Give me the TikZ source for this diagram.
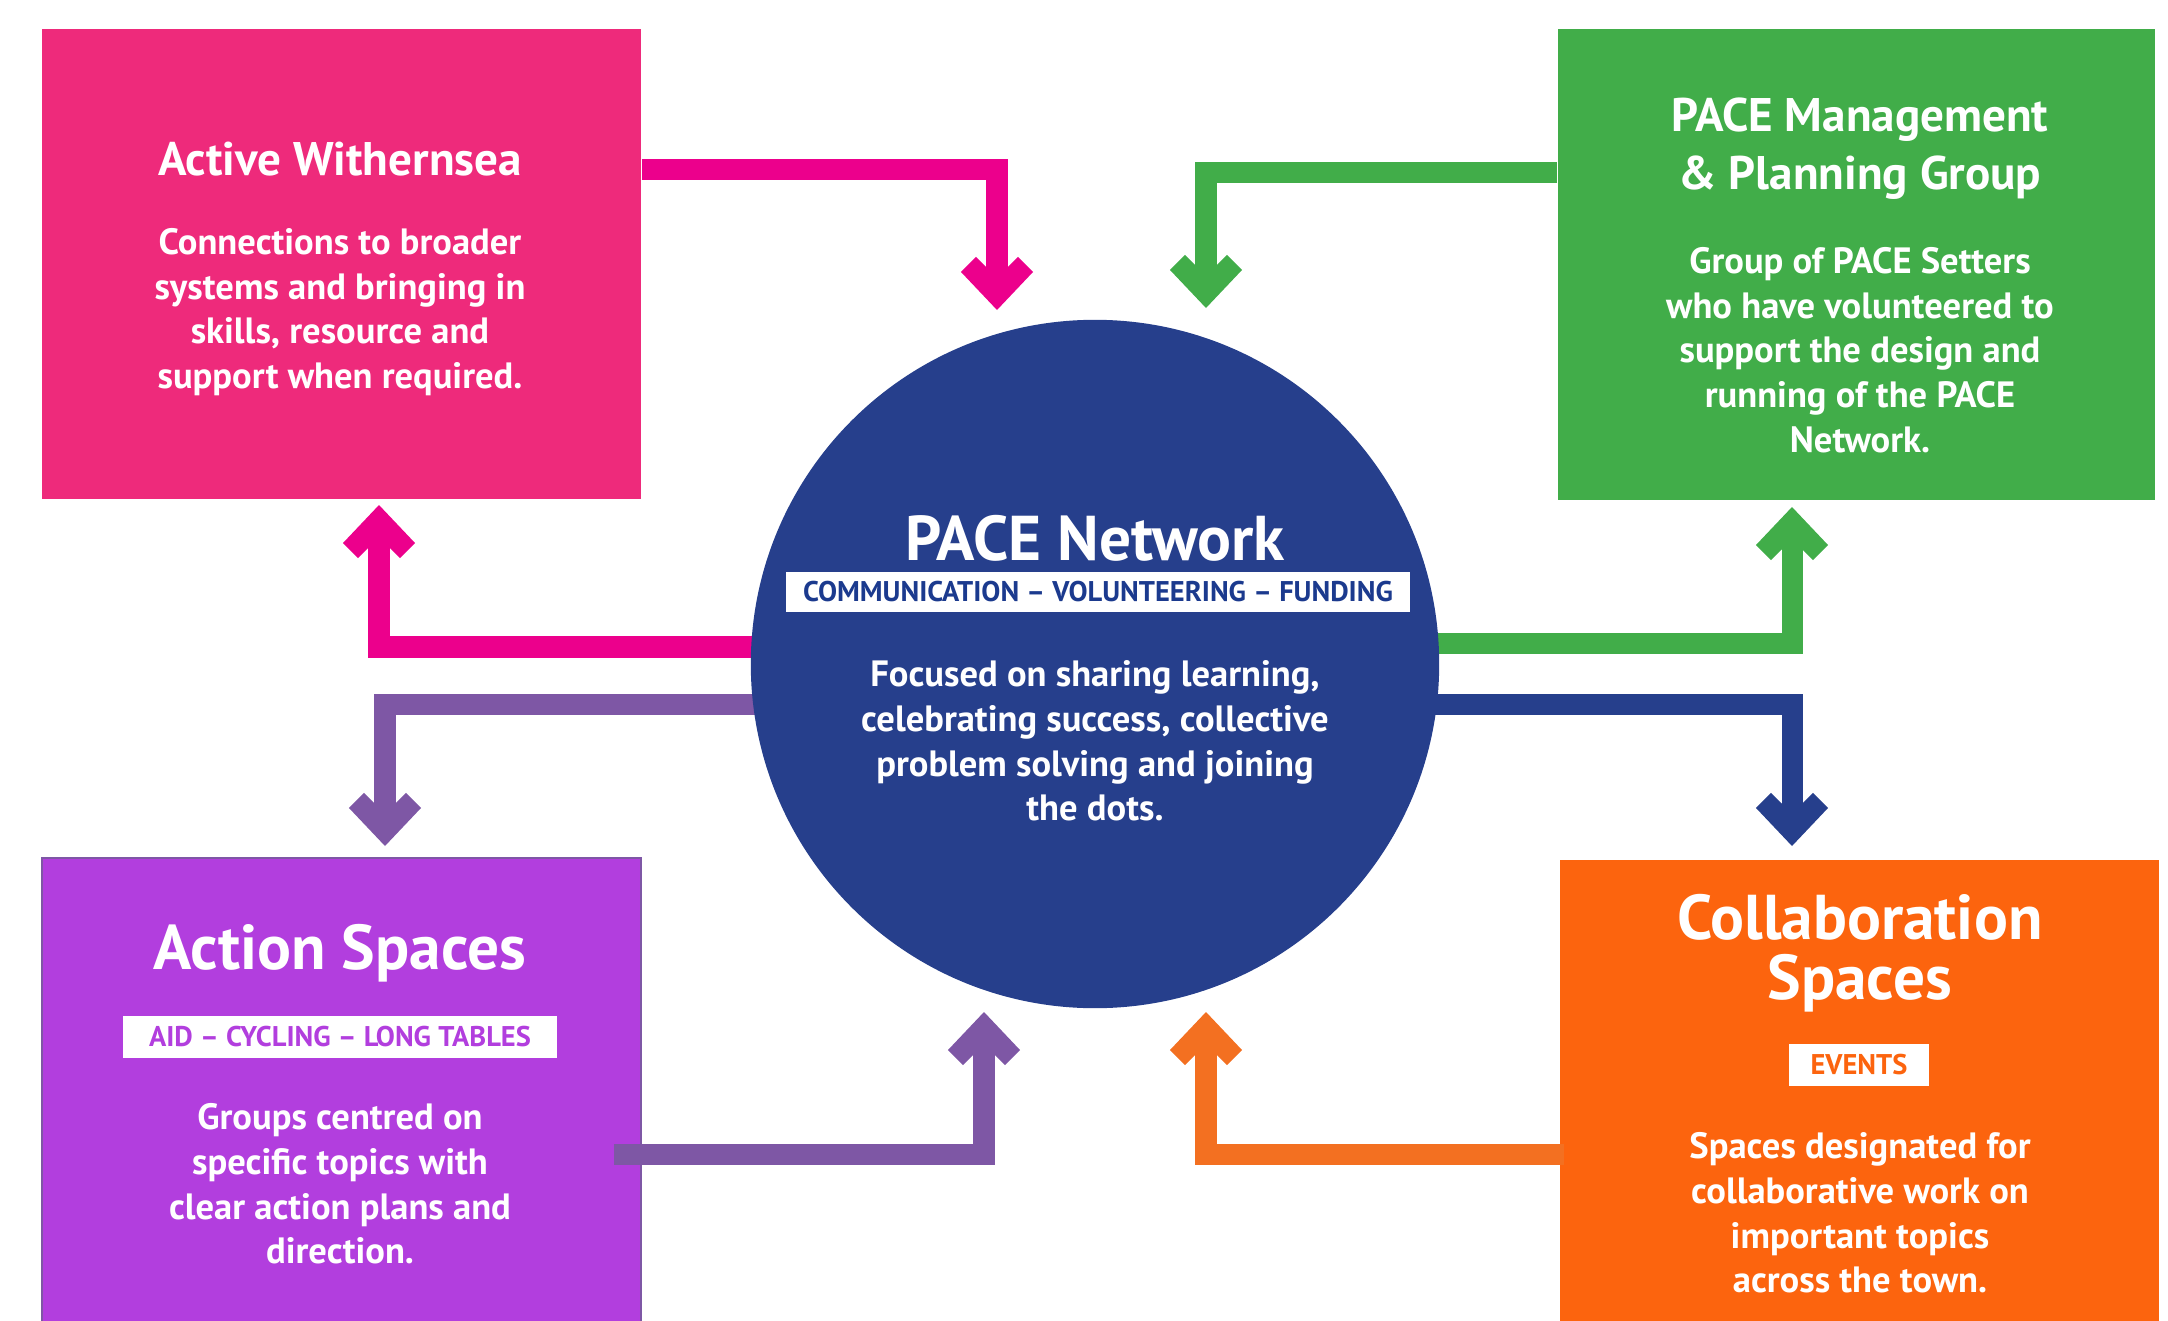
\documentclass[tikz,border=0pt]{standalone}
\usepackage{fontspec}
\setmainfont{PT Sans}
\definecolor{pinkbox}{HTML}{EE2A7B}
\definecolor{pinkA}{HTML}{EC008C}
\definecolor{greenc}{HTML}{41AD49}
\definecolor{purplebox}{HTML}{B23EDE}
\definecolor{purpleA}{HTML}{7E57A5}
\definecolor{orangebox}{HTML}{FC640E}
\definecolor{orangeA}{HTML}{F37021}
\definecolor{navy}{HTML}{263F8C}
\definecolor{navyT}{HTML}{1B3A8E}
\tikzset{
  panel/.style={rectangle, inner sep=0pt, anchor=north west, fill=#1},
  shaft/.style={draw=#1, line width=0.21cm, line join=miter, line cap=butt},
  chevron/.pic={\fill (0,0) -- (0.36cm,-0.38cm) -- (0.21cm,-0.53cm) -- (0.105cm,-0.425cm)
     -- (-0.105cm,-0.425cm) -- (-0.21cm,-0.53cm) -- (-0.36cm,-0.38cm) -- cycle;},
  ttl/.style={text=white, align=center, inner sep=0pt, font=\fontsize{13.4}{16.5}\selectfont\bfseries},
  bigttl/.style={text=white, align=center, inner sep=0pt, font=\fontsize{18}{17}\selectfont\bfseries},
  body/.style={text=white, align=center, inner sep=0pt, font=\fontsize{10.4}{12.7}\selectfont\bfseries},
  tag/.style={fill=white, inner sep=0pt, text=#1, font=\fontsize{8.1}{9}\selectfont\bfseries}
}
\begin{document}
\begin{tikzpicture}[x=0.01cm, y=-0.01cm]
\useasboundingbox (0,0) rectangle (2168,1321);

% coloured panels
\node[panel=pinkbox, minimum width=5.99cm, minimum height=4.70cm] (pink) at (41,28) {};
\node[panel=greenc, minimum width=5.97cm, minimum height=4.71cm] (green) at (1557,28) {};
\node[panel=purplebox, draw=purpleA, line width=0.015cm, minimum width=5.99cm, minimum height=4.80cm] (purple) at (41,857) {};
\node[panel=orangebox, minimum width=5.99cm, minimum height=4.70cm] (orange) at (1559,859) {};

% hub centre and arrow tips
\coordinate (hubc) at (1095,664);
\coordinate (t1) at (997,310);
\coordinate (t2) at (1206,308);
\coordinate (t3) at (379,505);
\coordinate (t4) at (385,846);
\coordinate (t5) at (1792,507);
\coordinate (t6) at (1792,846);
\coordinate (t7) at (984,1012);
\coordinate (t8) at (1206,1012);

% connectors
\draw[shaft=pinkA] ([yshift=-1.41cm]pink.north east) -| ([yshift=0.4cm]t1);
\pic[fill=pinkA, rotate=180] at (t1) {chevron};
\draw[shaft=greenc] ([yshift=-1.44cm]green.north west) -| ([yshift=0.4cm]t2);
\pic[fill=greenc, rotate=180] at (t2) {chevron};
\draw[shaft=pinkA] ([yshift=0.17cm]hubc) -| ([yshift=-0.4cm]t3);
\pic[fill=pinkA] at (t3) {chevron};
\draw[shaft=purpleA] ([yshift=-0.40cm]hubc) -| ([yshift=0.4cm]t4);
\pic[fill=purpleA, rotate=180] at (t4) {chevron};
\draw[shaft=greenc] ([yshift=0.20cm]hubc) -| ([yshift=-0.4cm]t5);
\pic[fill=greenc] at (t5) {chevron};
\draw[shaft=navy] ([yshift=-0.40cm]hubc) -| ([yshift=0.4cm]t6);
\pic[fill=navy, rotate=180] at (t6) {chevron};
\draw[shaft=purpleA] ([xshift=-0.28cm, yshift=-2.97cm]purple.north east) -| ([yshift=-0.4cm]t7);
\pic[fill=purpleA] at (t7) {chevron};
\draw[shaft=orangeA] ([xshift=0.05cm, yshift=-2.95cm]orange.north west) -| ([yshift=-0.4cm]t8);
\pic[fill=orangeA] at (t8) {chevron};

% central hub
\node[circle, fill=navy, minimum size=6.88cm, inner sep=0pt] (hub) at (hubc) {};

% texts
\node[ttl] (pinkT) at (340,159) {Active Withernsea};
\node[body] (pinkB) at (340,312) {Connections to broader\\systems and bringing in\\skills, resource and\\support when required.};

\node[ttl] (greenT) at (1860,149) {PACE Management\\\& Planning Group};
\node[body] (greenB) at (1860,350) {Group of PACE Setters\\who have volunteered to\\support the design and\\running of the PACE\\Network.};

\node[bigttl] (hubT) at (1095,538) {PACE Network};
\node[tag=navyT, minimum width=6.23cm, minimum height=0.39cm] (hubL) at (1098,592) {COMMUNICATION -- VOLUNTEERING -- FUNDING};
\node[body] (hubB) at (1095,741) {Focused on sharing learning,\\celebrating success, collective\\problem solving and joining\\the dots.};

\node[bigttl] (purpleT) at (340,953) {Action Spaces};
\node[tag=purplebox, minimum width=4.34cm, minimum height=0.42cm] (purpleL) at (340,1037) {AID -- CYCLING -- LONG TABLES};
\node[body] (purpleB) at (340,1184) {Groups centred on\\specific topics with\\clear action plans and\\direction.};

\node[bigttl] (orangeT) at (1860,953) {Collaboration\\Spaces};
\node[tag=orangebox, minimum width=1.39cm, minimum height=0.41cm] (orangeL) at (1859,1065) {EVENTS};
\node[body] (orangeB) at (1860,1213) {Spaces designated for\\collaborative work on\\important topics\\across the town.};
\end{tikzpicture}
\end{document}
